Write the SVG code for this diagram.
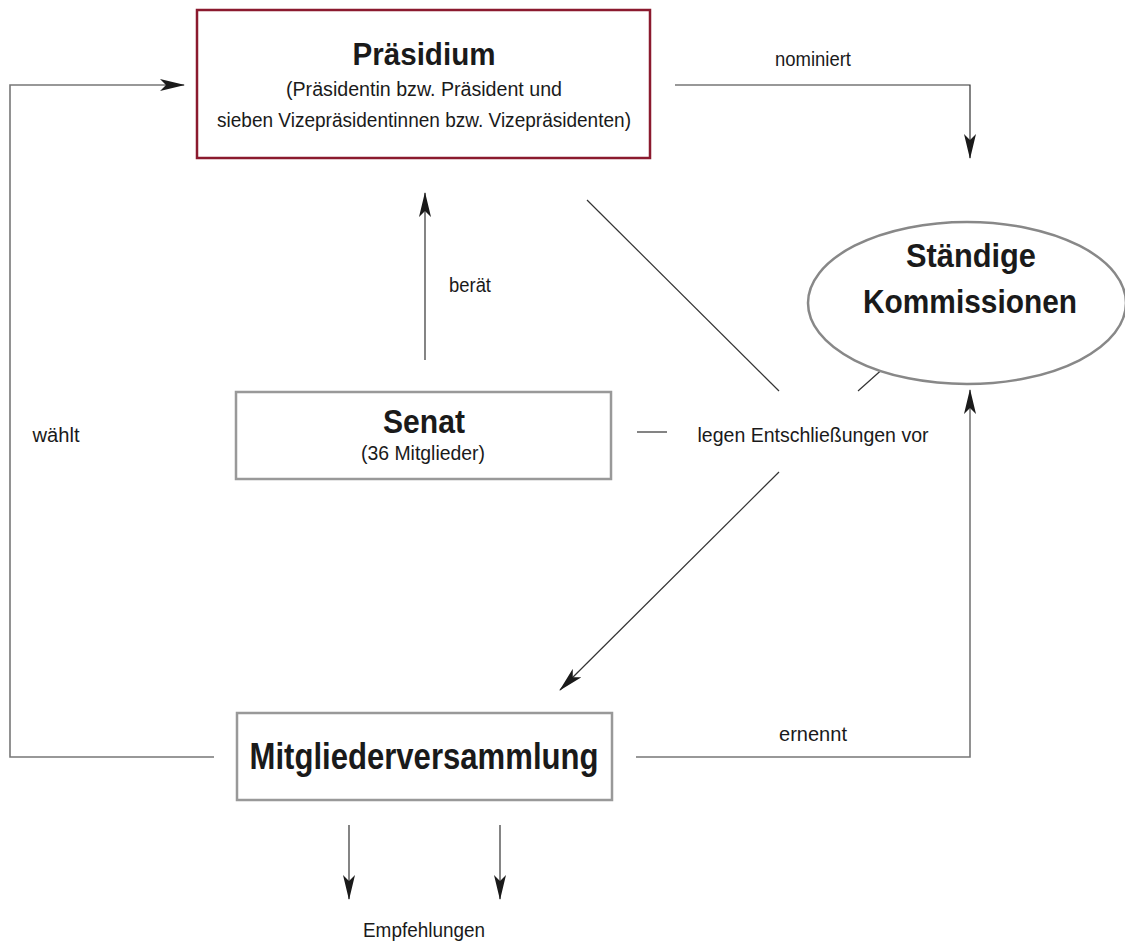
<svg xmlns="http://www.w3.org/2000/svg" width="1125" height="944" viewBox="0 0 1125 944">
<defs>
<marker id="ah" viewBox="0 0 25 12" markerWidth="25" markerHeight="12" refX="24" refY="6" orient="auto" markerUnits="userSpaceOnUse">
<path d="M0,0 L25,6 L0,12 L6,6 z" fill="#1a1a1a"/>
</marker>
<style>
.t{font-family:"Liberation Sans",Arial,sans-serif;fill:#1a1a1a;text-anchor:middle}
.b{font-weight:bold}
.s{font-size:20px}
.c{stroke:#333;stroke-width:1.2;fill:none}
.g{stroke:#777;stroke-width:1.6;fill:none}
.box{fill:#fff;stroke:#999;stroke-width:2.5}
</style>
</defs>
<rect width="1125" height="944" fill="#fff"/>
<g id="connectors">
<polyline class="g" points="214,757 10,757 10,85 184,85" marker-end="url(#ah)"/>
<polyline class="c" points="675,85 970,85 970,158" marker-end="url(#ah)"/>
<line class="c" x1="425" y1="360" x2="425" y2="193" marker-end="url(#ah)"/>
<line class="c" x1="637" y1="432" x2="667" y2="432"/>
<line class="c" x1="587" y1="200" x2="779" y2="391"/>
<line class="c" x1="858" y1="391" x2="886" y2="366"/>
<line class="c" x1="779" y1="472" x2="560" y2="690" marker-end="url(#ah)"/>
<polyline class="g" points="636,757 970,757 970,390" marker-end="url(#ah)"/>
<line class="c" x1="349" y1="825" x2="349" y2="899" marker-end="url(#ah)"/>
<line class="c" x1="500" y1="825" x2="500" y2="899" marker-end="url(#ah)"/>
<text class="t s" x="813" y="66" textLength="76" lengthAdjust="spacingAndGlyphs">nominiert</text>
<text class="t s" x="470" y="292" textLength="42" lengthAdjust="spacingAndGlyphs">berät</text>
<text class="t s" x="56" y="442" textLength="47" lengthAdjust="spacingAndGlyphs">wählt</text>
<text class="t s" x="813" y="442" textLength="231" lengthAdjust="spacingAndGlyphs">legen Entschließungen vor</text>
<text class="t s" x="813" y="741" textLength="68" lengthAdjust="spacingAndGlyphs">ernennt</text>
<text class="t s" x="424" y="937" textLength="122" lengthAdjust="spacingAndGlyphs">Empfehlungen</text>
</g>
<g id="praesidium">
<rect x="197" y="10" width="453" height="148" fill="#fff" stroke="#8b1a2e" stroke-width="2.5"/>
<text class="t b" x="424" y="65" font-size="32" textLength="143" lengthAdjust="spacingAndGlyphs">Präsidium</text>
<text class="t s" x="424" y="96" textLength="276" lengthAdjust="spacingAndGlyphs">(Präsidentin bzw. Präsident und</text>
<text class="t s" x="424" y="127" textLength="414" lengthAdjust="spacingAndGlyphs">sieben Vizepräsidentinnen bzw. Vizepräsidenten)</text>
</g>
<g id="kommissionen">
<ellipse cx="967" cy="303" rx="159" ry="81" fill="#fff" stroke="#888" stroke-width="2.5"/>
<text class="t b" x="971" y="267" font-size="33" textLength="130" lengthAdjust="spacingAndGlyphs">Ständige</text>
<text class="t b" x="970" y="313" font-size="33" textLength="214" lengthAdjust="spacingAndGlyphs">Kommissionen</text>
</g>
<g id="senat">
<rect x="236" y="392" width="375" height="87" class="box"/>
<text class="t b" x="424" y="433" font-size="33" textLength="82" lengthAdjust="spacingAndGlyphs">Senat</text>
<text class="t s" x="423" y="460" textLength="124" lengthAdjust="spacingAndGlyphs">(36 Mitglieder)</text>
</g>
<g id="mitgliederversammlung">
<rect x="237" y="713" width="375" height="87" class="box"/>
<text class="t b" x="424" y="769" font-size="36" textLength="349" lengthAdjust="spacingAndGlyphs">Mitgliederversammlung</text>
</g>
</svg>
